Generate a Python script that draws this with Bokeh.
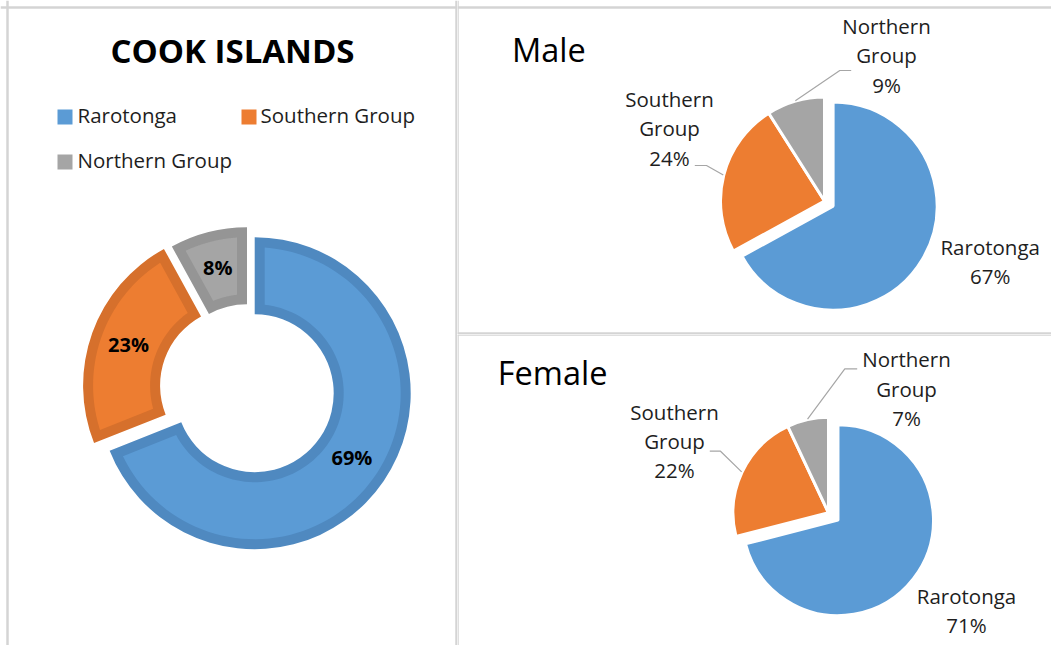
import numpy as np
from bokeh.plotting import figure
from bokeh.models import Range1d, Span
from bokeh.layouts import row, column
from bokeh.embed import file_html
from bokeh.resources import INLINE
from bokeh.core.properties import value

# ---------------- data ----------------
categories = ["Rarotonga", "Southern Group", "Northern Group"]
total_pct = [69, 23, 8]
male_pct = [67, 24, 9]
female_pct = [71, 22, 7]

title_total = "COOK ISLANDS"
title_male = "Male"
title_female = "Female"

# ---------------- styles ----------------
FILL = ["#5b9bd5", "#ed7d31", "#a5a5a5"]
EDGE = ["#4f89c0", "#d6702c", "#959595"]
FONT = "Open Sans"
TXT = "#1e1e1e"
LEADER = "#a6a6a6"
BORDER = "#d4d4d4"


def ymid(baseline, size):
    # page baseline -> data y for a "middle"-anchored text of given size
    return -(baseline - 0.457 * size)


def make_fig(x0, y0, w, h):
    # data units == page pixels; y is negated page y
    p = figure(width=w, height=h,
               x_range=Range1d(x0, x0 + w),
               y_range=Range1d(-(y0 + h), -y0),
               output_backend="svg", toolbar_location=None, tools="",
               min_border=0, x_axis_location=None, y_axis_location=None)
    p.grid.visible = False
    p.outline_line_color = None
    p.background_fill_color = "white"
    p.border_fill_color = "white"
    return p


def border(p, loc, dim, w=2.5):
    p.add_layout(Span(location=loc, dimension=dim, line_color=BORDER, line_width=w))


def angles(pcts):
    frac = np.array(pcts, float) / float(sum(pcts))
    cum = np.concatenate([[0.0], np.cumsum(frac)])
    start = np.pi / 2 - 2 * np.pi * cum[:-1]
    end = np.pi / 2 - 2 * np.pi * cum[1:]
    return start, end, (start + end) / 2


# ---------------- left: donut ----------------
left = make_fig(0, 0, 457, 645)
border(left, 7, "height")
border(left, -7, "width")
border(left, 456, "height")

cx0, cy0 = 248.0, -388.5
R, r, band = 156.0, 79.0, 10.0
explode = np.array([7.5, 10.0, 6.0])
s, e, m = angles(total_pct)
xs = cx0 + explode * np.cos(m)
ys = cy0 + explode * np.sin(m)

left.annular_wedge(x=xs, y=ys, inner_radius=r, outer_radius=R,
                   start_angle=s, end_angle=e, direction="clock",
                   fill_color=EDGE, line_color=None)

pxs, pys = [], []
Ro, Ri = R - band, r + band
ao, ai = np.arcsin(band / Ro), np.arcsin(band / Ri)
for i in range(len(total_pct)):
    t_out = np.linspace(s[i] - ao, e[i] + ao, 90)
    t_in = np.linspace(e[i] + ai, s[i] - ai, 90)
    pxs.append(list(xs[i] + np.r_[Ro * np.cos(t_out), Ri * np.cos(t_in)]))
    pys.append(list(ys[i] + np.r_[Ro * np.sin(t_out), Ri * np.sin(t_in)]))
left.patches(pxs, pys, fill_color=FILL, line_color=None)

rm = (R + r) / 2
left.text(x=xs + rm * np.cos(m), y=ys + rm * np.sin(m) + 1.5,
          text=[f"{v}%" for v in total_pct],
          text_font=value(FONT), text_font_style="bold", text_font_size="20px",
          text_align="center", text_baseline="middle", text_color="black")

left.text(x=[232], y=[ymid(65, 33)], text=[title_total], text_font=value(FONT),
          text_font_style="bold", text_font_size="33px", text_align="center",
          text_baseline="middle", text_color="black")

# legend (manual, two columns)
leg_sq_x = [64.5, 248.5, 64.5]
leg_sq_y = [-116.5, -116.5, -161.5]
left.rect(x=leg_sq_x, y=leg_sq_y, width=15, height=15, fill_color=FILL, line_color=None)
left.text(x=[77, 260, 77], y=[ymid(123.5, 20.5), ymid(123.5, 20.5), ymid(168.5, 20.5)],
          text=categories,
          text_font=value(FONT), text_font_size="20.5px", text_align="left",
          text_baseline="middle", text_color=TXT)


# ---------------- right: pies ----------------
def draw_pie(p, pcts, c0, Rv, d, title, title_xy, label_pos, leaders):
    s, e, m = angles(pcts)
    expl = np.array([d, 0.0, 0.0])
    xs = c0[0] + expl * np.cos(m)
    ys = -c0[1] + expl * np.sin(m)
    p.wedge(x=xs, y=ys, radius=Rv + 1.5, start_angle=s, end_angle=e,
            direction="clock", fill_color=FILL, line_color="white", line_width=3)

    # leader lines from slice edge to label
    lx, ly = [], []
    for i, pts in leaders.items():
        sx = xs[i] + (Rv + 2) * np.cos(m[i])
        sy = ys[i] + (Rv + 2) * np.sin(m[i])
        lx.append([sx] + [q[0] for q in pts])
        ly.append([sy] + [-q[1] for q in pts])
    p.multi_line(lx, ly, line_color=LEADER, line_width=1.2)

    # labels: category words on separate lines + percentage
    tx, ty, tt = [], [], []
    for i, (x, yb) in label_pos.items():
        lines = categories[i].split(" ") + [f"{pcts[i]}%"]
        for k, ln in enumerate(lines):
            tx.append(x)
            ty.append(ymid(yb + 29.3 * k, 20.5))
            tt.append(ln)
    p.text(x=tx, y=ty, text=tt, text_font=value(FONT), text_font_size="20.5px",
           text_align="center", text_baseline="middle", text_color=TXT)

    p.text(x=[title_xy[0]], y=[ymid(title_xy[1], 32.5)], text=[title], text_font=value(FONT),
           text_font_size="32.5px", text_align="left", text_baseline="middle",
           text_color="black")


top = make_fig(457, 0, 594, 334)
border(top, 457.5, "height", 1.5)
border(top, -7, "width")
border(top, -333, "width")
draw_pie(top, male_pct, (824.0, 200.5), 102.5, 10.0, title_male, (511.5, 63.5),
         {0: (989.7, 256), 1: (669, 108), 2: (886, 35)},
         {1: [(706, 165), (694.3, 165)], 2: [(839.3, 70), (850.7, 70)]})

bottom = make_fig(457, 334, 594, 311)
border(bottom, 457.5, "height", 1.5)
border(bottom, -334.5, "width", 1.5)
draw_pie(bottom, female_pct, (828.0, 512.3), 94.0, 12.0, title_female, (497.3, 387),
         {0: (966, 605), 1: (674, 420.7), 2: (906, 368.3)},
         {1: [(720, 450.7), (709.3, 450.7)], 2: [(844.3, 368.3), (856.7, 368.3)]})

layout = row(left, column(top, bottom, spacing=0), spacing=0)

open("out.html", "w").write(file_html(layout, INLINE, "Cook Islands"))
